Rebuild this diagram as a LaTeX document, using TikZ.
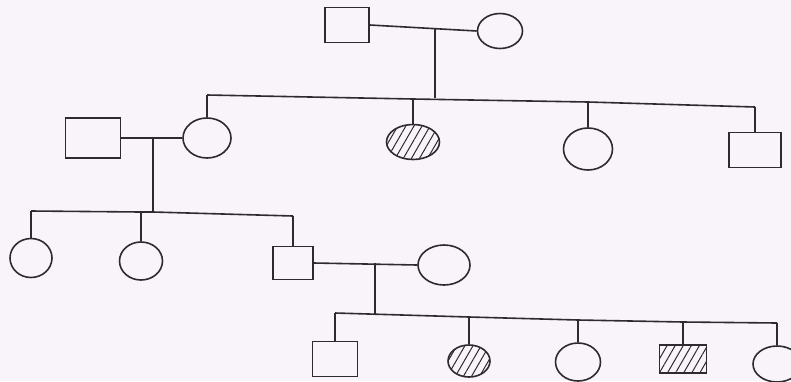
\documentclass[tikz,border=0pt]{standalone}
\usetikzlibrary{shapes.geometric,patterns.meta}
\definecolor{ink}{RGB}{45,42,48}
\definecolor{paper}{RGB}{249,244,249}
\begin{document}
\begin{tikzpicture}[x=1pt,y=-1pt,
  ln/.style={line width=1.6pt, draw=ink},
  male/.style={rectangle, draw=ink, line width=1.6pt, inner sep=0pt},
  female/.style={ellipse, draw=ink, line width=1.6pt, inner sep=0pt},
  aff/.style={pattern={Lines[angle=60,distance=7pt,line width=1pt]}, pattern color=ink}]
\fill[paper] (0,0) rectangle (791,381);
\useasboundingbox (0,0) rectangle (791,381);
% Generation I
\node[male,minimum width=44pt,minimum height=35pt] (m0) at (347,25) {};
\node[female,minimum width=45pt,minimum height=35pt] (f0) at (500,31) {};
% Generation II
\node[male,minimum width=55pt,minimum height=40pt] (m1) at (93,138) {};
\node[female,minimum width=48pt,minimum height=40pt] (f1) at (207,138) {};
\node[female,aff,minimum width=53pt,minimum height=35pt] (f2) at (413,142) {};
\node[female,minimum width=49pt,minimum height=42pt] (f3) at (588,149) {};
\node[male,minimum width=52pt,minimum height=35pt] (m2) at (755,150) {};
% Generation III
\node[female,minimum width=42pt,minimum height=39pt] (f4) at (31,258) {};
\node[female,minimum width=43pt,minimum height=38pt] (f5) at (141,261) {};
\node[male,minimum width=40pt,minimum height=33pt] (m3) at (293,263) {};
\node[female,minimum width=52pt,minimum height=40pt] (f6) at (444,265) {};
% Generation IV
\node[male,minimum width=45pt,minimum height=35pt] (m4) at (335,359) {};
\node[female,aff,minimum width=42pt,minimum height=32pt] (f7) at (469,361) {};
\node[female,minimum width=45pt,minimum height=38pt] (f8) at (578,362) {};
\node[male,aff,minimum width=47pt,minimum height=28pt] (m5) at (683,359) {};
\node[female,minimum width=48pt,minimum height=36pt] (f9) at (777,364) {};
% coordinates on lines
\coordinate (d0) at (435,28);
\coordinate (s0) at (435,98);
\coordinate (a1) at (207,95);
\coordinate (a2) at (413,99);
\coordinate (a3) at (588,102);
\coordinate (a4) at (755,107);
\coordinate (d1) at (153,138);
\coordinate (s1) at (153,212);
\coordinate (b1) at (31,211);
\coordinate (b2) at (141,212);
\coordinate (b3) at (293,216);
\coordinate (d2) at (375,263);
\coordinate (s2) at (375,314);
\coordinate (c0) at (335,313);
\coordinate (c1) at (469,317);
\coordinate (c2) at (578,320);
\coordinate (c3) at (683,322);
\coordinate (c4) at (777,323);
% Generation I connections
\draw[ln] (m0.east) -- (f0.west);
\draw[ln] (d0) -- (s0);
\draw[ln] (a1) -- (a2) -- (a3) -- (a4);
\draw[ln] (a1) -- (f1.north);
\draw[ln] (a2) -- (f2.north);
\draw[ln] (a3) -- (f3.north);
\draw[ln] (a4) -- (m2.north);
% Generation II connections
\draw[ln] (m1.east) -- (f1.west);
\draw[ln] (d1) -- (s1);
\draw[ln] (b1) -- (b2) -- (s1) -- (b3);
\draw[ln] (b1) -- (f4.north);
\draw[ln] (b2) -- (f5.north);
\draw[ln] (b3) -- (m3.north);
% Generation III connections
\draw[ln] (m3.east) -- (f6.west);
\draw[ln] (d2) -- (s2);
\draw[ln] (c0) -- (c1) -- (c2) -- (c3) -- (c4);
\draw[ln] (c0) -- (m4.north);
\draw[ln] (c1) -- (f7.north);
\draw[ln] (c2) -- (f8.north);
\draw[ln] (c3) -- (m5.north);
\draw[ln] (c4) -- (f9.north);
\end{tikzpicture}
\end{document}
